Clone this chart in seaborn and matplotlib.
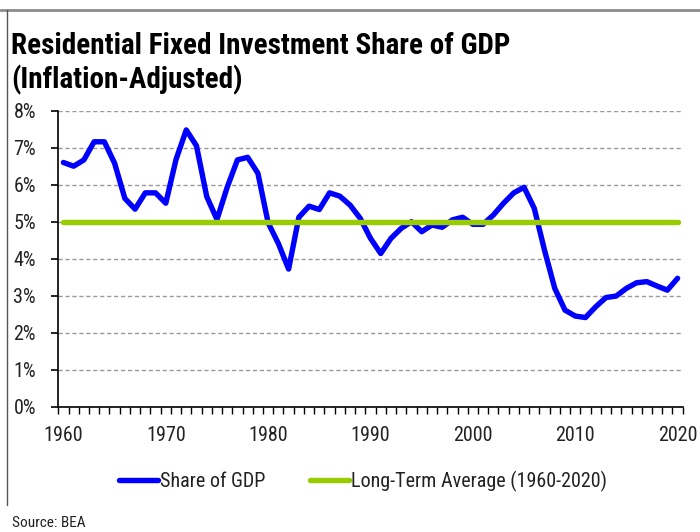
import numpy as np
import pandas as pd
import matplotlib
matplotlib.use("Agg")
import matplotlib.pyplot as plt
from matplotlib.lines import Line2D
from matplotlib.ticker import FixedLocator, FuncFormatter
import seaborn as sns

# DATA

years = list(range(1960, 2021))

share_of_gdp = [
    6.60, 6.50, 6.67, 7.16, 7.16, 6.58, 5.63, 5.34, 5.78, 5.78,   # 1960s
    5.50, 6.68, 7.48, 7.05, 5.68, 5.06, 5.93, 6.67, 6.74, 6.31,   # 1970s
    4.97, 4.41, 3.72, 5.12, 5.42, 5.33, 5.78, 5.69, 5.45, 5.09,   # 1980s
    4.55, 4.14, 4.55, 4.82, 5.00, 4.73, 4.91, 4.85, 5.05, 5.12,   # 1990s
    4.93, 4.93, 5.18, 5.50, 5.78, 5.93, 5.36, 4.23, 3.20, 2.61,   # 2000s
    2.45, 2.41, 2.70, 2.95, 2.99, 3.20, 3.35, 3.38, 3.26, 3.15,   # 2010s
    3.47,                                                         # 2020
]

long_term_avg = 5.0

series_names = ["Share of GDP", "Long-Term Average (1960-2020)"]
series_colors = ["#0000FF", "#99CC00"]

y_ticks = [0, 1, 2, 3, 4, 5, 6, 7, 8]
x_ticks = [1960, 1970, 1980, 1990, 2000, 2010, 2020]

# BUILD LONG TABLE

df = pd.DataFrame({
    "Year": years * 2,
    "Value": share_of_gdp + [long_term_avg] * len(years),
    "Series": [series_names[0]] * len(years) + [series_names[1]] * len(years),
})

# STYLE

sns.set_style("ticks")
plt.rcParams["font.family"] = ["Roboto Condensed", "DejaVu Sans"]

fig = plt.figure(figsize=(7, 5.32), dpi=100)
ax = fig.add_axes([58.3 / 700, 1 - 406.7 / 532, (682.7 - 58.3) / 700, 296 / 532])

sns.lineplot(
    data=df,
    x="Year",
    y="Value",
    hue="Series",
    palette=series_colors,
    linewidth=3.9,
    solid_capstyle="round",
    ax=ax,
    legend=False,
)

# AXES

ax.set_xlim(1959.5, 2020.5)
ax.set_ylim(0, 8)

ax.set_yticks(y_ticks)
ax.yaxis.set_major_formatter(FuncFormatter(lambda v, p: f"{v:.0f}%"))
ax.set_xticks(x_ticks)
ax.xaxis.set_minor_locator(FixedLocator(np.arange(1959.5, 2021, 1.0)))

ax.tick_params(axis="y", direction="out", length=5, width=1.2, pad=11,
               labelsize=14.5, colors="#000000", labelcolor="#222222")
ax.tick_params(axis="x", which="major", length=0, pad=14,
               labelsize=14.5, labelcolor="#222222")
ax.tick_params(axis="x", which="minor", direction="out", length=5, width=1.0,
               color="#000000")

ax.set_xlabel("")
ax.set_ylabel("")

for side in ["top", "right"]:
    ax.spines[side].set_visible(False)
for side in ["left", "bottom"]:
    ax.spines[side].set_color("#000000")
    ax.spines[side].set_linewidth(1.2)

ax.yaxis.grid(True, linestyle=(0, (3, 2)), color="#999999", linewidth=1.0)
ax.set_axisbelow(True)

# LEGEND

handles = [Line2D([0], [0], color=c, linewidth=3.9, solid_capstyle="round")
           for c in series_colors]
fig.legend(
    handles, series_names,
    loc="center", bbox_to_anchor=(363 / 700, 1 - 481 / 532),
    ncol=2, frameon=False, fontsize=14.5,
    handlelength=1.95, handletextpad=0.1, columnspacing=2.2,
    labelcolor="#222222",
)

# TITLE AND SOURCE

fig.text(11 / 700, 1 - 53.5 / 532, "Residential Fixed Investment Share of GDP",
         fontsize=21, fontweight="bold", color="#000000", va="baseline")
fig.text(11 / 700, 1 - 88.5 / 532, "(Inflation-Adjusted)",
         fontsize=21, fontweight="bold", color="#000000", va="baseline")
fig.text(12 / 700, 1 - 527 / 532, "Source: BEA",
         fontsize=11, color="#222222", va="baseline")

# OUTER FRAME

fig.add_artist(Line2D([0, 1], [1 - 10 / 532, 1 - 10 / 532],
                      color="#8c8c8c", linewidth=2.0, transform=fig.transFigure))
fig.add_artist(Line2D([7 / 700, 7 / 700], [1 - 10 / 532, 1 - 505 / 532],
                      color="#555555", linewidth=1.0, transform=fig.transFigure))

fig.savefig("out.png", dpi=100)
plt.close(fig)
